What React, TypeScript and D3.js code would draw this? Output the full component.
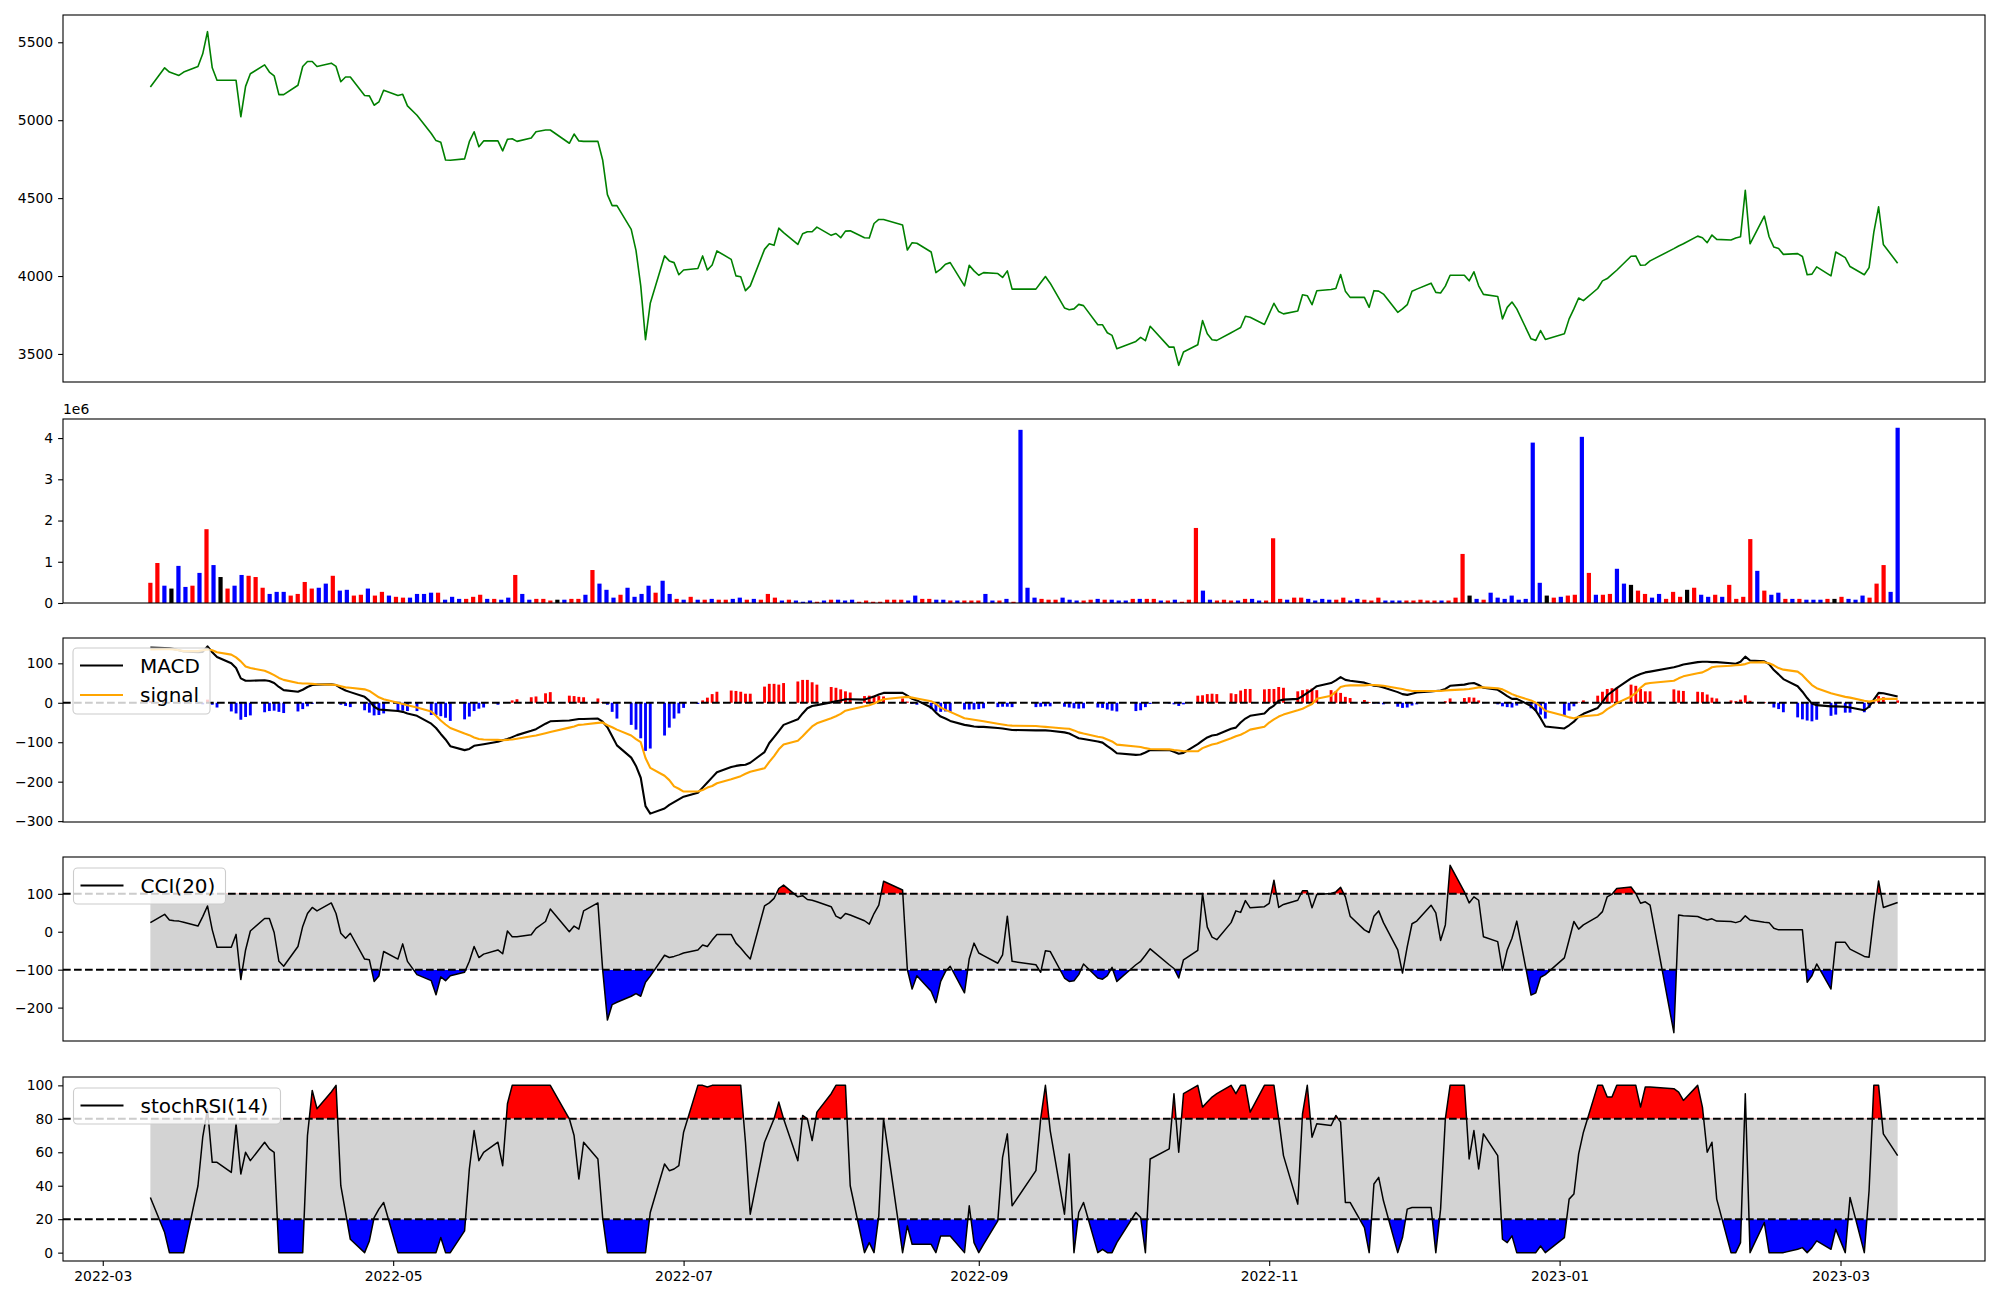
import { useEffect, useRef } from 'react';
import * as d3 from 'd3';

// trading calendar: weekdays from first to last session, exchange holidays skipped
const FIRST_DAY = '2022-03-11';
const LAST_DAY = '2023-03-13';
const holidays = [
  '2022-05-05', '2022-06-01', '2022-06-06', '2022-08-15', '2022-09-09', '2022-09-12',
  '2022-10-03', '2022-10-10', '2022-12-30', '2023-01-23', '2023-01-24', '2023-03-01',
];

// closing price, one value per session (rows = months)
const closePrice = [
  5213, 5336, 5309, 5298, 5287, 5309, 5345, 5426, 5568, 5336, 5256, 5256, 5256, 5022, 5217,
  5298, 5355, 5309, 5285, 5164, 5164, 5224, 5345, 5377, 5377, 5345, 5366, 5345, 5247, 5277, 5277, 5158, 5156, 5096, 5117, 5192,
  5158, 5166, 5092, 5032, 4915, 4869, 4858, 4745, 4743, 4752, 4862, 4926, 4830, 4867, 4867, 4803, 4877, 4881, 4864, 4886, 4926,
  4937, 4937, 4852, 4911, 4867, 4864, 4864, 4745, 4522, 4452, 4452, 4299, 4165, 3937, 3591, 3825, 4129, 4097, 4086, 4008,
  4039, 4048, 4129, 4039, 4071, 4161, 4107, 4001, 3995, 3906, 3937, 4171, 4207, 4197, 4307, 4278, 4203, 4271, 4284, 4284, 4314,
  4261, 4273, 4246, 4288, 4290, 4246, 4244, 4337, 4363, 4363, 4327, 4167, 4214, 4210, 4154, 4022, 4044, 4076, 4086, 3937, 4069, 4033,
  4005, 4022, 4016, 3991, 4033, 3916, 3916, 3957, 3997, 3954, 3795, 3784, 3789, 3818, 3810, 3687, 3687, 3636, 3619, 3534,
  3580, 3606, 3585, 3678, 3544, 3544, 3427, 3512, 3559, 3714, 3629, 3591, 3587, 3636, 3653, 3670, 3742, 3735, 3689,
  3757, 3825, 3772, 3757, 3776, 3880, 3874, 3816, 3906, 3914, 3920, 4010, 3903, 3863, 3863, 3799, 3906, 3903, 3884, 3767, 3789, 3816,
  3903, 3916, 3954, 3895, 3891, 3935, 4005, 4005, 3969, 4027, 3937, 3882, 3869, 3725, 3799, 3833, 3789, 3597, 3587, 3650, 3593,
  3629, 3725, 3789, 3859, 3842, 3920, 3969, 3984, 4010, 4037, 4127, 4129, 4069, 4071, 4097, 4176, 4193, 4207, 4256, 4246,
  4214, 4263, 4235, 4231, 4244, 4252, 4550, 4207, 4384, 4252, 4186, 4176, 4139, 4144, 4125, 4008, 4012, 4059, 4001, 4154,
  4118, 4061, 4008, 4054, 4282, 4444, 4203, 4082,
];

// volume in millions of shares, drawn one bar per session index
const volumeM = [
  0.49, 0.97, 0.42, 0.35, 0.90, 0.39, 0.42, 0.73, 1.79, 0.92,
  0.63, 0.35, 0.42, 0.68, 0.66, 0.63, 0.37, 0.22, 0.27, 0.27,
  0.18, 0.22, 0.51, 0.35, 0.37, 0.47, 0.66, 0.30, 0.32, 0.18,
  0.20, 0.35, 0.18, 0.27, 0.18, 0.15, 0.13, 0.13, 0.22, 0.22,
  0.25, 0.25, 0.08, 0.15, 0.10, 0.10, 0.15, 0.20, 0.10, 0.10,
  0.08, 0.13, 0.68, 0.22, 0.08, 0.10, 0.10, 0.06, 0.08, 0.08,
  0.10, 0.10, 0.20, 0.80, 0.47, 0.32, 0.13, 0.20, 0.37, 0.15,
  0.22, 0.42, 0.25, 0.54, 0.22, 0.10, 0.08, 0.15, 0.08, 0.08,
  0.10, 0.08, 0.08, 0.10, 0.13, 0.08, 0.10, 0.08, 0.22, 0.13,
  0.06, 0.08, 0.06, 0.03, 0.06, 0.03, 0.06, 0.08, 0.08, 0.06,
  0.08, 0.03, 0.06, 0.03, 0.03, 0.08, 0.08, 0.08, 0.06, 0.18,
  0.10, 0.10, 0.08, 0.08, 0.06, 0.06, 0.06, 0.06, 0.06, 0.22,
  0.06, 0.06, 0.10, 0.03, 4.20, 0.37, 0.13, 0.10, 0.08, 0.08,
  0.13, 0.08, 0.06, 0.06, 0.08, 0.10, 0.08, 0.08, 0.06, 0.06,
  0.10, 0.10, 0.10, 0.10, 0.06, 0.06, 0.08, 0.03, 0.08, 1.82,
  0.30, 0.08, 0.06, 0.08, 0.06, 0.06, 0.10, 0.10, 0.06, 0.06,
  1.57, 0.10, 0.08, 0.13, 0.13, 0.10, 0.06, 0.10, 0.08, 0.08,
  0.13, 0.06, 0.10, 0.08, 0.06, 0.13, 0.06, 0.06, 0.06, 0.06,
  0.06, 0.08, 0.06, 0.06, 0.06, 0.06, 0.13, 1.19, 0.18, 0.10,
  0.08, 0.25, 0.13, 0.10, 0.18, 0.08, 0.10, 3.89, 0.49, 0.18,
  0.13, 0.15, 0.18, 0.20, 4.03, 0.73, 0.20, 0.20, 0.22, 0.83,
  0.47, 0.44, 0.30, 0.22, 0.13, 0.22, 0.10, 0.27, 0.15, 0.32,
  0.37, 0.20, 0.15, 0.20, 0.15, 0.44, 0.10, 0.15, 1.55, 0.78,
  0.30, 0.20, 0.25, 0.10, 0.10, 0.10, 0.08, 0.08, 0.08, 0.10,
  0.10, 0.15, 0.10, 0.08, 0.18, 0.13, 0.47, 0.92, 0.27, 4.25,
];
// 1 = up session (red), -1 = down (blue), 0 = unchanged (black)
const volumeDir = [
  1, 1, -1, 0, -1, -1, 1, -1, 1, -1,
  0, 1, -1, -1, 1, 1, 1, -1, -1, -1,
  1, 1, 1, 1, -1, -1, 1, -1, -1, 1,
  1, -1, 1, 1, -1, 1, 1, -1, -1, -1,
  -1, 1, -1, -1, -1, 1, 1, 1, -1, 1,
  -1, -1, 1, -1, -1, 1, 1, 1, 0, -1,
  1, 1, -1, 1, -1, -1, -1, 1, -1, -1,
  -1, -1, 1, -1, -1, 1, -1, 1, -1, 1,
  -1, 1, 1, -1, -1, 1, -1, 1, 1, 1,
  -1, 1, -1, -1, -1, 1, -1, 1, -1, -1,
  -1, 1, 1, 1, 1, 1, 1, 1, -1, -1,
  1, 1, -1, -1, 1, -1, 1, 1, 1, -1,
  -1, 1, -1, 1, -1, -1, -1, 1, 1, 1,
  -1, -1, -1, 1, 1, -1, 1, -1, -1, -1,
  1, -1, 1, 1, -1, 1, -1, 1, 1, 1,
  -1, -1, 1, 1, 1, -1, 1, -1, -1, 1,
  1, 1, -1, 1, 1, -1, -1, -1, -1, 1,
  1, -1, -1, 1, 1, 1, -1, -1, -1, 1,
  1, 1, 1, 1, -1, 1, 1, 1, 0, -1,
  1, -1, -1, -1, -1, -1, -1, -1, -1, 0,
  1, -1, 1, 1, -1, 1, -1, 1, 1, -1,
  -1, 0, 1, 1, -1, -1, 1, 1, 1, 0,
  1, -1, -1, 1, -1, 1, 1, 1, 1, -1,
  1, -1, -1, 1, -1, 1, -1, -1, -1, 1,
  0, 1, -1, -1, -1, 1, 1, 1, -1, -1,
];

const macdLine = [
  140, 139, 138, 136, 133, 130, 128, 129, 143, 128, 116, 100, 88, 62, 56,
  56, 57, 55, 50, 40, 32, 28, 33, 40, 45, 46, 47, 45, 37, 31, 27, 15, 5, -10, -17, -18,
  -21, -23, -27, -33, -53, -64, -79, -93, -110, -120, -117, -109, -107, -105, -99, -95, -92, -87, -82, -71, -67,
  -53, -47, -45, -43, -41, -41, -40, -48, -62, -85, -108, -139, -160, -190, -262, -281, -268, -259, -252, -245,
  -238, -228, -215, -202, -189, -176, -163, -160, -158, -157, -152, -125, -102, -87, -72, -56, -42, -27, -14, -8, -6,
  1, 4, 6, 9, 9, 8, 12, 16, 21, 25, 25, 18, 10, 6, -12, -25, -35, -40, -46, -56, -58, -60,
  -61, -61, -64, -65, -67, -69, -70, -70, -70, -71, -75, -78, -84, -90, -92, -98, -101, -110, -118, -128,
  -132, -131, -126, -120, -120, -124, -129, -127, -105, -96, -88, -83, -81, -66, -63, -50, -40, -33, -27,
  -15, -7, 5, 8, 10, 17, 25, 33, 42, 50, 57, 65, 58, 56, 51, 47, 43, 42, 39, 27, 22, 20,
  23, 26, 29, 30, 31, 35, 43, 46, 49, 50, 45, 38, 33, 25, 17, 10, 10, -8, -20, -39, -60,
  -65, -57, -48, -35, -28, -13, 2, 19, 28, 37, 62, 68, 73, 77, 79, 90, 93, 97, 103, 104,
  104, 103, 103, 100, 99, 104, 117, 107, 105, 98, 83, 72, 60, 42, 28, 12, -2, -6, -9, -9,
  -10, -12, -19, -10, 8, 25, 24, 16,
];

const signalLine = [
  135, 136, 136, 135, 133, 131, 131, 133, 135, 133, 128, 122, 115, 105, 92,
  88, 81, 76, 70, 63, 58, 50, 49, 49, 48, 47, 46, 45, 42, 39, 38, 34, 30, 22, 14, 9,
  0, -3, -6, -12, -22, -33, -45, -55, -64, -78, -82, -88, -92, -93, -94, -95, -94, -93, -91, -85, -83,
  -77, -74, -63, -60, -56, -55, -51, -50, -57, -62, -68, -83, -92, -100, -140, -165, -185, -196, -212, -218,
  -225, -225, -221, -215, -211, -204, -194, -190, -186, -180, -175, -166, -150, -135, -118, -106, -96, -85, -72, -60, -52,
  -39, -34, -28, -20, -17, -9, -6, -2, 4, 9, 14, 15, 13, 11, 4, -3, -12, -18, -23, -39, -41, -43,
  -45, -47, -53, -55, -57, -58, -59, -60, -61, -62, -65, -66, -70, -75, -78, -86, -88, -93, -98, -106,
  -111, -112, -115, -117, -118, -120, -121, -123, -123, -115, -110, -106, -103, -90, -85, -81, -75, -68, -61,
  -50, -42, -35, -30, -19, -15, -9, -3, 10, 18, 28, 40, 43, 44, 44, 45, 45, 44, 43, 37, 35, 32,
  30, 30, 30, 30, 30, 31, 32, 34, 35, 37, 39, 39, 37, 34, 28, 22, 17, 6, 0, -9, -20,
  -33, -37, -39, -36, -34, -31, -26, -16, -9, -1, 16, 25, 38, 48, 50, 56, 62, 67, 75, 77,
  83, 90, 92, 94, 95, 96, 98, 102, 103, 100, 95, 88, 84, 79, 70, 57, 45, 37, 24, 21,
  15, 13, 5, 3, 5, 8, 10, 10,
];

const macdHist = [
  5, 3, 2, 1, 0, -1, -3, -4, 8, -5, -12, -22, -27, -43, -36,
  -32, -24, -21, -20, -23, -26, -22, -16, -9, -3, -1, 1, 0, -5, -8, -11, -19, -25, -32, -31, -27,
  -21, -20, -21, -21, -31, -31, -34, -38, -46, -42, -35, -21, -15, -12, -5, 0, 2, 6, 9, 14, 16,
  24, 27, 18, 17, 15, 14, 11, 2, -5, -23, -40, -56, -68, -90, -122, -116, -83, -63, -40, -27,
  -13, -3, 6, 13, 22, 28, 31, 30, 28, 23, 23, 41, 48, 48, 46, 50, 54, 58, 58, 52, 46,
  40, 38, 34, 29, 26, 17, 18, 18, 17, 16, 11, 3, -3, -5, -16, -22, -23, -22, -23, -17, -17, -17,
  -16, -14, -11, -10, -10, -11, -11, -10, -9, -9, -10, -12, -14, -15, -14, -12, -13, -17, -20, -22,
  -21, -19, -11, -3, -2, -4, -8, -4, 18, 19, 22, 23, 22, 24, 22, 31, 35, 35, 34,
  35, 35, 40, 38, 29, 32, 34, 36, 32, 32, 29, 25, 15, 12, 7, 2, -2, -2, -4, -10, -13, -12,
  -7, -4, -1, 0, 1, 4, 11, 12, 14, 13, 6, -1, -4, -9, -11, -12, -7, -14, -20, -30, -40,
  -32, -20, -9, 1, 6, 18, 28, 35, 37, 38, 46, 43, 35, 29, 29, 34, 31, 30, 28, 27,
  21, 13, 11, 6, 4, 8, 19, 5, 2, -2, -12, -16, -24, -37, -42, -45, -47, -43, -33, -30,
  -25, -25, -24, -13, 3, 17, 14, 6,
];

const cci20 = [
  24, 46, 31, 29, 28, 25, 15, 40, 68, 5, -41, -41, -7, -126, -48,
  2, 35, 35, -2, -78, -91, -39, 14, 48, 64, 55, 76, 48, -4, -17, -4, -72, -74, -131, -117, -52,
  -72, -32, -78, -113, -129, -166, -119, -129, -116, -107, -78, -39, -68, -59, -48, -58, 2, -13, -13, -8, 9,
  27, 60, 0, 15, 7, 55, 76, -100, -233, -192, -186, -170, -163, -170, -133, -117, -62, -68, -65, -61,
  -56, -48, -35, -39, -22, -7, -7, -30, -43, -58, -72, 68, 76, 88, 114, 123, 92, 95, 85, 83, 79,
  66, 41, 35, 48, 44, 29, 20, 48, 70, 133, 110, -100, -151, -116, -157, -187, -131, -105, -91, -161, -71, -30,
  -56, -63, -83, -61, 41, -78, -87, -107, -50, -52, -122, -131, -129, -113, -85, -122, -125, -116, -94, -131,
  -87, -78, -62, -45, -87, -97, -122, -74, -49, 101, 12, -14, -21, 24, 55, 51, 82, 63, 66,
  75, 136, 64, 72, 83, 108, 108, 63, 98, 101, 105, 117, 92, 41, 5, -2, 41, 55, 24, -48, -109, -39,
  21, 28, 70, 50, -23, 18, 175, 105, 76, 92, 83, -13, -26, -102, -48, -17, 28, -167, -161, -120, -113,
  -69, -21, 27, 7, 18, 40, 53, 92, 99, 114, 118, 101, 75, 79, 70, -266, 44, 42, 40, 35,
  31, 34, 28, 27, 24, 28, 42, 31, 25, 24, 9, 5, 5, 5, 5, -133, -116, -85, -151, -28,
  -28, -46, -65, -67, 40, 134, 64, 77,
];

const stochRsi14 = [
  33, 12, 0, 0, 0, 0, 40, 69, 86, 54, 54, 48, 77, 47, 60,
  55, 66, 62, 60, 0, 0, 0, 0, 70, 97, 86, 96, 100, 40, 24, 8, 0, 7, 21, 26, 30,
  0, 0, 0, 0, 0, 0, 9, 0, 0, 13, 50, 73, 55, 60, 66, 52, 89, 100, 100, 100, 100,
  100, 100, 80, 70, 44, 66, 56, 21, 0, 0, 0, 0, 0, 0, 0, 24, 53, 49, 50, 52,
  72, 100, 100, 99, 100, 100, 100, 100, 100, 66, 23, 66, 73, 80, 90, 80, 55, 82, 80, 67, 84,
  95, 100, 100, 100, 40, 0, 6, 0, 22, 80, 0, 16, 5, 5, 5, 0, 10, 10, 10, 0, 28, 6,
  0, 5, 19, 57, 71, 28, 49, 80, 100, 73, 23, 59, 0, 24, 30, 0, 2, 0, 0, 6,
  24, 21, 0, 56, 62, 95, 60, 95, 100, 87, 90, 93, 95, 100, 95, 100, 100, 84, 100,
  100, 100, 80, 58, 29, 83, 100, 69, 77, 76, 82, 78, 30, 30, 15, 0, 41, 45, 31, 0, 9, 26,
  27, 27, 27, 0, 26, 80, 100, 100, 56, 73, 50, 71, 58, 8, 6, 10, 0, 0, 0, 4, 0,
  9, 32, 35, 59, 72, 100, 100, 93, 93, 100, 100, 100, 87, 99, 99, 98, 96, 91, 100, 87,
  60, 66, 32, 0, 0, 6, 95, 0, 18, 0, 0, 0, 0, 2, 3, 0, 3, 7, 2, 14,
  0, 33, 0, 37, 100, 100, 71, 58,
];

const xTickDates = ['2022-03-01', '2022-05-01', '2022-07-01', '2022-09-01', '2022-11-01', '2023-01-01', '2023-03-01'];
const priceTicks = [3500, 4000, 4500, 5000, 5500];
const volumeTicks = [0, 1, 2, 3, 4];
const macdTicks = [-300, -200, -100, 0, 100];
const cciTicks = [-200, -100, 0, 100];
const rsiTicks = [0, 20, 40, 60, 80, 100];

const W = 2000;
const H = 1300;
const LEFT = 63;
const RIGHT = 1985;
const FONT = 'DejaVu Sans, Verdana, sans-serif';
const TICK = 4.9;

const utc = (s: string) => new Date(s + 'T00:00:00Z');

const buildSessions = () => {
  const skip = new Set(holidays);
  const out: Date[] = [];
  const end = utc(LAST_DAY).getTime();
  for (let t = utc(FIRST_DAY).getTime(); t <= end; t += 864e5) {
    const d = new Date(t);
    const wd = d.getUTCDay();
    if (wd === 0 || wd === 6 || skip.has(d.toISOString().slice(0, 10))) continue;
    out.push(d);
  }
  return out;
};

const padded = (lo: number, hi: number) => {
  const r = hi - lo;
  return [lo - 0.05 * r, hi + 0.05 * r];
};

const fmt = (v: number) => (v < 0 ? '\u2212' + Math.abs(v) : String(v));

const App = () => {
  const svgRef = useRef<SVGSVGElement>(null);

  useEffect(() => {
    if (!svgRef.current) return;
    document.body.style.margin = '0';
    const svg = d3.select(svgRef.current);
    svg.selectAll('*').remove();

    const dates = buildSessions();
    const n = dates.length;
    const t0 = dates[0].getTime();
    const t1 = dates[n - 1].getTime();
    const span = t1 - t0;
    const x = d3.scaleUtc()
      .domain([new Date(t0 - 0.05 * span), new Date(t1 + 0.05 * span)])
      .range([LEFT, RIGHT]);
    // volume bars are laid out by session number, not by calendar date
    const xi = d3.scaleLinear()
      .domain([-0.05 * (n - 1), 1.05 * (n - 1)])
      .range([LEFT, RIGHT]);

    const defs = svg.append('defs');
    let clipId = 0;
    const clipRect = (x0: number, y0: number, x1: number, y1: number) => {
      const id = `clip${clipId++}`;
      defs.append('clipPath').attr('id', id)
        .append('rect').attr('x', x0).attr('y', y0).attr('width', x1 - x0).attr('height', y1 - y0);
      return `url(#${id})`;
    };

    const yAxis = (y: d3.ScaleLinear<number, number>, ticks: number[], tf = fmt) => {
      const g = svg.append('g')
        .attr('transform', `translate(${LEFT},0)`)
        .call(d3.axisLeft(y).tickValues(ticks).tickSize(TICK).tickPadding(TICK).tickFormat(d => tf(+d)));
      g.select('.domain').remove();
      g.selectAll('.tick line').attr('stroke', '#000').attr('stroke-width', 1.1);
      g.selectAll('.tick text').attr('fill', '#000').style('font-family', FONT).style('font-size', '13.9px');
    };

    const frame = (top: number, bottom: number) => {
      svg.append('rect')
        .attr('x', LEFT).attr('y', top).attr('width', RIGHT - LEFT).attr('height', bottom - top)
        .attr('fill', 'none').attr('stroke', '#000').attr('stroke-width', 1.1);
    };

    const hline = (yPos: number) => {
      svg.append('line')
        .attr('x1', LEFT).attr('x2', RIGHT).attr('y1', yPos).attr('y2', yPos)
        .attr('stroke', '#000').attr('stroke-width', 2).attr('stroke-dasharray', '7.7,3.3');
    };

    const legend = (lx: number, ly: number, w: number, items: { label: string; color: string }[]) => {
      const h = 36 + (items.length - 1) * 30;
      svg.append('rect')
        .attr('x', lx).attr('y', ly).attr('width', w).attr('height', h).attr('rx', 4)
        .attr('fill', '#fff').attr('fill-opacity', 0.8)
        .attr('stroke', '#cccccc').attr('stroke-width', 1.1);
      items.forEach((it, k) => {
        const cy = ly + 17.5 + k * 29.5;
        svg.append('line')
          .attr('x1', lx + 7).attr('x2', lx + 50).attr('y1', cy).attr('y2', cy)
          .attr('stroke', it.color).attr('stroke-width', 2.1);
        svg.append('text')
          .attr('x', lx + 67).attr('y', cy).attr('dy', '0.36em')
          .style('font-family', FONT).style('font-size', '20px')
          .attr('fill', '#000').text(it.label);
      });
    };

    const lineOf = (vals: number[], y: d3.ScaleLinear<number, number>) =>
      d3.line<number>().x((_, i) => x(dates[i])).y(v => y(v))(vals) || '';

    // ---------- price ----------
    const [pTop, pBot] = [15, 382];
    const yP = d3.scaleLinear().domain(padded(d3.min(closePrice)!, d3.max(closePrice)!)).range([pBot, pTop]);
    svg.append('path').attr('d', lineOf(closePrice, yP))
      .attr('fill', 'none').attr('stroke', 'green').attr('stroke-width', 1.6).attr('stroke-linejoin', 'round');
    frame(pTop, pBot);
    yAxis(yP, priceTicks);

    // ---------- volume ----------
    const [vTop, vBot] = [419, 603];
    const yV = d3.scaleLinear().domain([0, d3.max(volumeM)! * 1.05]).range([vBot, vTop]);
    const bw = xi(0.6) - xi(0);
    const dirColor = (d: number) => (d > 0 ? '#ff0000' : d < 0 ? '#0000ff' : '#000000');
    svg.append('g').selectAll('rect').data(volumeM).join('rect')
      .attr('x', (_, i) => xi(i) - bw / 2)
      .attr('y', v => yV(v))
      .attr('width', bw)
      .attr('height', v => yV(0) - yV(v))
      .attr('fill', (_, i) => dirColor(volumeDir[i]));
    frame(vTop, vBot);
    yAxis(yV, volumeTicks);
    svg.append('text').attr('x', LEFT).attr('y', 414)
      .style('font-family', FONT).style('font-size', '13.9px').text('1e6');

    // ---------- MACD ----------
    const [mTop, mBot] = [638, 822];
    const mAll = [...macdLine, ...signalLine, ...macdHist];
    const yM = d3.scaleLinear().domain(padded(d3.min(mAll)!, d3.max(mAll)!)).range([mBot, mTop]);
    const halfDay = 0.3 * 864e5;
    svg.append('g').selectAll('rect').data(macdHist).join('rect')
      .attr('x', (_, i) => x(new Date(dates[i].getTime() - halfDay)))
      .attr('width', (_, i) => x(new Date(dates[i].getTime() + halfDay)) - x(new Date(dates[i].getTime() - halfDay)))
      .attr('y', v => Math.min(yM(v), yM(0)))
      .attr('height', v => Math.abs(yM(v) - yM(0)))
      .attr('fill', v => (v >= 0 ? '#ff0000' : '#0000ff'));
    hline(yM(0));
    svg.append('path').attr('d', lineOf(macdLine, yM))
      .attr('fill', 'none').attr('stroke', '#000').attr('stroke-width', 2.1).attr('stroke-linejoin', 'round');
    svg.append('path').attr('d', lineOf(signalLine, yM))
      .attr('fill', 'none').attr('stroke', 'orange').attr('stroke-width', 2.1).attr('stroke-linejoin', 'round');
    frame(mTop, mBot);
    yAxis(yM, macdTicks.filter(t => t >= yM.domain()[0] - 2));
    legend(73, 648, 137, [
      { label: 'MACD', color: '#000' },
      { label: 'signal', color: 'orange' },
    ]);

    // ---------- shaded oscillator panel ----------
    const oscillator = (
      vals: number[], top: number, bot: number, lo: number, hi: number,
      domain: number[], ticks: number[], label: string, legendW: number,
    ) => {
      const y = d3.scaleLinear().domain(domain).range([bot, top]);
      const xa = x(dates[0]);
      const xb = x(dates[n - 1]);
      svg.append('rect').attr('x', xa).attr('y', y(hi)).attr('width', xb - xa).attr('height', y(lo) - y(hi))
        .attr('fill', 'lightgray');
      const band = (level: number) =>
        d3.area<number>().x((_, i) => x(dates[i])).y0(y(level)).y1(v => y(v))(vals) || '';
      svg.append('path').attr('d', band(hi)).attr('fill', '#ff0000')
        .attr('clip-path', clipRect(LEFT, top, RIGHT, y(hi)));
      svg.append('path').attr('d', band(lo)).attr('fill', '#0000ff')
        .attr('clip-path', clipRect(LEFT, y(lo), RIGHT, bot));
      hline(y(hi));
      hline(y(lo));
      svg.append('path').attr('d', lineOf(vals, y))
        .attr('fill', 'none').attr('stroke', '#000').attr('stroke-width', 1.5).attr('stroke-linejoin', 'round');
      frame(top, bot);
      yAxis(y, ticks);
      legend(73.5, top + 11, legendW, [{ label, color: '#000' }]);
      return y;
    };

    oscillator(cci20, 857, 1041, -100, 100, padded(d3.min(cci20)!, d3.max(cci20)!), cciTicks, 'CCI(20)', 152);
    oscillator(stochRsi14, 1077, 1261, 20, 80, padded(0, 100), rsiTicks, 'stochRSI(14)', 207);

    // ---------- date axis under the last panel ----------
    const gx = svg.append('g')
      .attr('transform', 'translate(0,1261)')
      .call(d3.axisBottom(x).tickValues(xTickDates.map(utc)).tickSize(TICK).tickPadding(TICK)
        .tickFormat(d => d3.utcFormat('%Y-%m')(d as Date)));
    gx.select('.domain').remove();
    gx.selectAll('.tick line').attr('stroke', '#000').attr('stroke-width', 1.1);
    gx.selectAll('.tick text').attr('fill', '#000').style('font-family', FONT).style('font-size', '13.9px');
  }, []);

  return (
    <svg ref={svgRef} width={W} height={H} style={{ display: 'block', background: '#fff' }} />
  );
};

export default App;
